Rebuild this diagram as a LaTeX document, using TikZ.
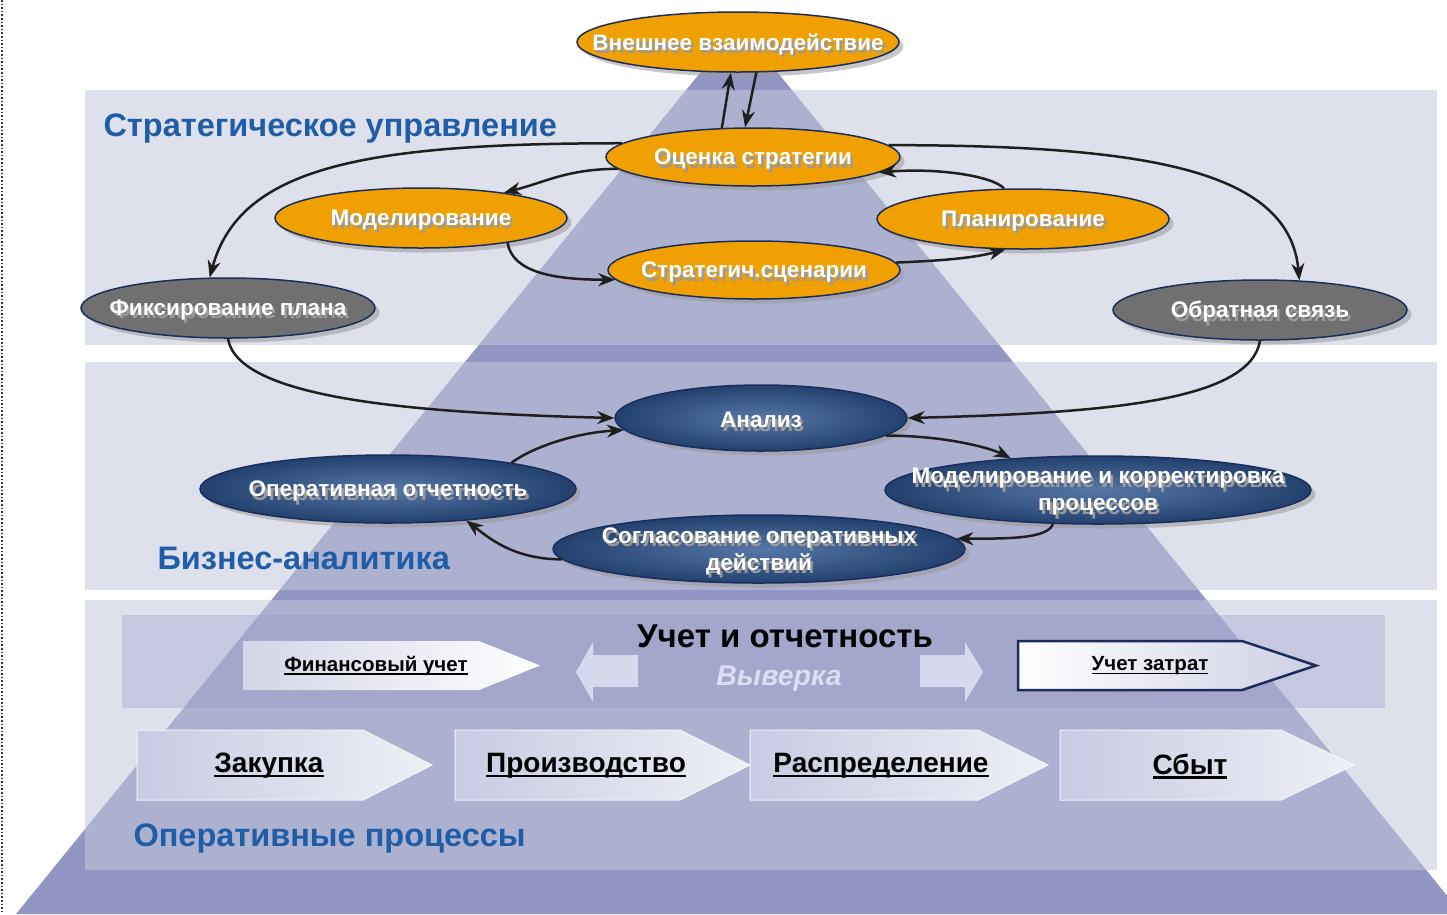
\documentclass[tikz,border=0pt]{standalone}
\usepackage{fontspec}
\setmainfont{Liberation Sans}
\usetikzlibrary{arrows.meta,shapes.geometric,shadows}
\definecolor{pyr}{HTML}{9296C3}
\definecolor{bandc}{HTML}{C3C8DC}
\definecolor{stripc}{HTML}{8E92C0}
\definecolor{titleblue}{HTML}{1F5DA6}
\definecolor{orangeF}{HTML}{F0A000}
\definecolor{grayE}{HTML}{707070}
\definecolor{blueIn}{HTML}{5777A6}
\definecolor{blueOut}{HTML}{22416F}
\definecolor{edgeN}{HTML}{1B2D5C}
\definecolor{chevL}{HTML}{C8CBE2}
\definecolor{chevR}{HTML}{EEF0F7}
\definecolor{blockc}{HTML}{DDE0F1}
\definecolor{txtsh}{HTML}{9A9A9A}
\definecolor{verk}{HTML}{DCDFF1}
\newcommand\tsh[1]{\makebox[0pt]{\rlap{\hspace{2.5pt}\raisebox{-5.5pt}[0pt][0pt]{\textcolor{txtsh}{#1}}}\raisebox{-2pt}[\height][\depth]{#1}}}
\newcommand\ulx[1]{\setbox0\hbox{#1}\leavevmode\rlap{\rule[-0.16em]{\wd0}{0.075em}}\box0}
\begin{document}
\begin{tikzpicture}[x=1pt,y=-1pt,
  ell/.style={ellipse, draw=edgeN, line width=1.5pt, inner sep=0pt, text=white,
    font=\fontsize{22.5}{27}\selectfont\bfseries, align=center,
    drop shadow={shadow xshift=4.5pt, shadow yshift=-4.5pt, fill=black!40, opacity=0.55}},
  orell/.style={ell, fill=orangeF},
  grell/.style={ell, fill=grayE},
  blell/.style={ell, inner color=blueIn, outer color=blueOut},
  conn/.style={line width=2.5pt, draw=black!88, -{Stealth[length=17pt,width=13pt]}},
  ttl/.style={anchor=west, text=titleblue, font=\fontsize{32.5}{36}\selectfont\bfseries},
  chev/.style={left color=chevL, right color=chevR, draw=white!80!chevL, line width=1pt},
  chevtxt/.style={font=\fontsize{28}{32}\selectfont\bfseries, text=black},
  smalltxt/.style={font=\fontsize{20.5}{24}\selectfont\bfseries, text=black},
  band/.style={fill=bandc, opacity=.55},
  block/.style={fill=blockc, opacity=.9}
]
\useasboundingbox (0,0) rectangle (1447,914);
\fill[white] (0,0) rectangle (1447,914);
\draw[dotted, line width=1.6pt, black!80] (2,0) -- (2,914);
% pyramid
\fill[pyr] (739,25) -- (1462,914) -- (16,914) -- cycle;
% bands
\fill[band] (85,90) rectangle (1437,345);
\fill[band] (85,362) rectangle (1437,590);
\fill[band] (85,600) rectangle (1437,870);
\fill[stripc, opacity=.3] (122,615) rectangle (1385,708);

% titles
\node[ttl] (t1) at (100,129) {Стратегическое управление};
\node[ttl] (t2) at (154,558) {Бизнес-аналитика};
\node[ttl] (t3) at (130,839) {Оперативные процессы};

% accounting row
\path[left color=chevL!80, right color=white] (243,641) -- (479,641) -- (540,665.5) -- (479,690) -- (243,690) -- cycle;
\node[smalltxt] (fin) at (376,666) {\ulx{Финансовый учет}};
\path[draw=edgeN, line width=2.5pt, left color=white, right color=chevL!90] (1018,641) -- (1242,641) -- (1316,665.5) -- (1242,690) -- (1018,690) -- cycle;
\node[smalltxt] (zat) at (1150,666) {\ulx{Учет затрат}};
\fill[block] (576,672) -- (593,642) -- (593,655) -- (638,655) -- (638,687) -- (593,687) -- (593,702) -- cycle;
\fill[block] (983,672) -- (965,642) -- (965,655) -- (920,655) -- (920,687) -- (965,687) -- (965,702) -- cycle;
\node[font=\fontsize{33}{37}\selectfont\bfseries, text=black] (uch) at (785,636) {Учет и отчетность};
\node[font=\fontsize{28.5}{32}\selectfont\bfseries\itshape, text=verk] (vyv) at (779,679) {Выверка};

% process chevrons
\path[chev] (137,730) -- (363,730) -- (432,765) -- (363,800) -- (137,800) -- cycle;
\path[chev] (455,730) -- (680,730) -- (750,765) -- (680,800) -- (455,800) -- cycle;
\path[chev] (750,730) -- (978,730) -- (1048,765) -- (978,800) -- (750,800) -- cycle;
\path[chev] (1060,730) -- (1281,730) -- (1354,765) -- (1281,800) -- (1060,800) -- cycle;
\node[chevtxt] (p1) at (269,766) {\ulx{Закупка}};
\node[chevtxt] (p2) at (586,766) {\ulx{Производство}};
\node[chevtxt] (p3) at (881,766) {\ulx{Распределение}};
\node[chevtxt] (p4) at (1190,766) {\ulx{Сбыт}};

% ellipses
\node[orell, minimum width=322pt, minimum height=60pt] (ext) at (738,42) {\tsh{Внешнее взаимодействие}};
\node[orell, minimum width=294pt, minimum height=58pt] (ocen) at (753,157) {\tsh{Оценка стратегии}};
\node[orell, minimum width=292pt, minimum height=60pt] (model) at (421,218) {\tsh{Моделирование}};
\node[orell, minimum width=292pt, minimum height=60pt] (plan) at (1023,219) {\tsh{Планирование}};
\node[orell, minimum width=292pt, minimum height=58pt] (strat) at (754,270) {\tsh{Стратегич.сценарии}};
\node[grell, minimum width=294pt, minimum height=60pt] (fix) at (228,308) {\tsh{Фиксирование плана}};
\node[grell, minimum width=294pt, minimum height=60pt] (obr) at (1260,310) {\tsh{Обратная связь}};
\node[blell, minimum width=292pt, minimum height=66pt] (anal) at (761,418) {\tsh{Анализ}};
\node[blell, minimum width=376pt, minimum height=68pt] (oper) at (388,489) {\tsh{Оперативная отчетность}};
\node[blell, minimum width=426pt, minimum height=68pt] (modk) at (1098,490) {\tsh{Моделирование и корректировка}\\\tsh{процессов}};
\node[blell, minimum width=412pt, minimum height=68pt] (sogl) at (759,549) {\tsh{Согласование оперативных}\\\tsh{действий}};

% connectors
\draw[conn] (ocen.137) -- (ext.257);
\draw[conn] (ext.301) -- (ocen.105);
\draw[conn] (ocen.174) .. controls +(-260,0) and +(30,-110) .. (fix.121);
\draw[conn] (ocen.185) .. controls +(-50,0) and +(40,-10) .. (model.17);
\draw[conn] (model.344) .. controls +(5,30) and +(-60,0) .. (strat.184);
\draw[conn] (strat.3) .. controls +(50,-2) and +(-30,8) .. (plan.240);
\draw[conn] (plan.122) .. controls +(-10,-12) and +(60,-5) .. (ocen.353);
\draw[conn] (ocen.5) .. controls +(260,0) and +(-10,-110) .. (obr.37);
\draw[conn] (fix.270) .. controls +(10,60) and +(-200,-5) .. (anal.180);
\draw[conn] (obr.270) .. controls +(-10,60) and +(200,-5) .. (anal.0);
\draw[conn] (oper.12) .. controls +(20,-15) and +(-50,3) .. (anal.185);
\draw[conn] (anal.352) .. controls +(60,0) and +(-20,-10) .. (modk.160);
\draw[conn] (modk.217) .. controls +(-5,15) and +(50,0) .. (sogl.3);
\draw[conn] (sogl.183) .. controls +(-50,0) and +(20,15) .. (oper.338);
\end{tikzpicture}
\end{document}
